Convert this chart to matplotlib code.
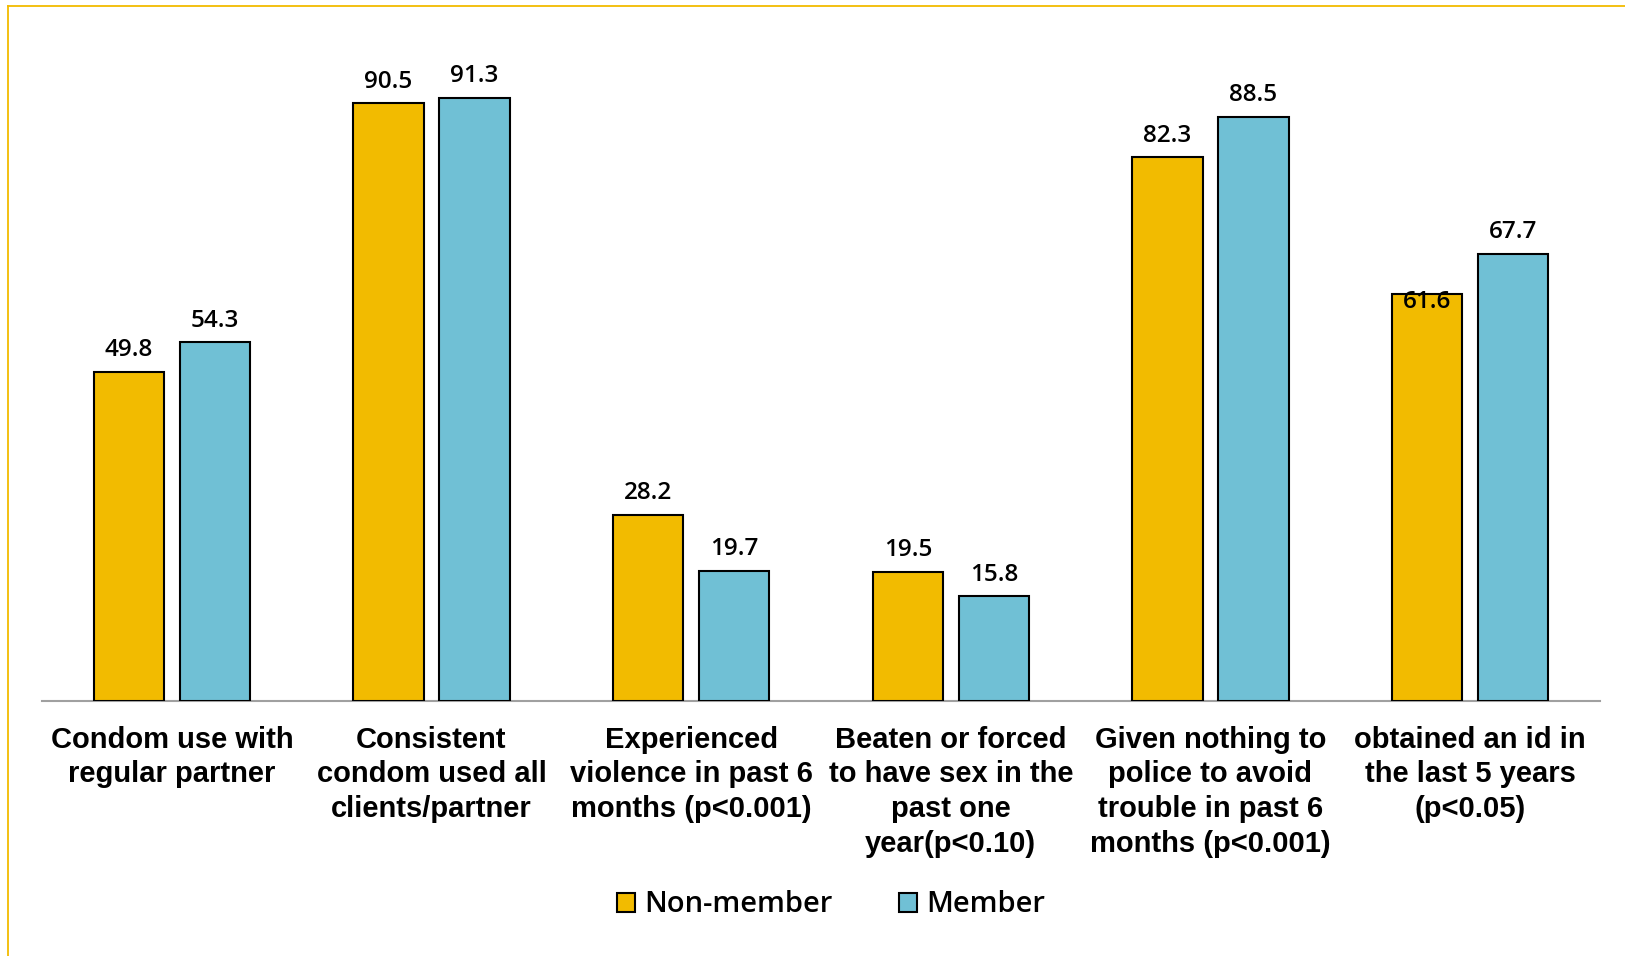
import matplotlib
matplotlib.use("Agg")
import matplotlib.pyplot as plt
import numpy as np
from matplotlib.lines import Line2D

categories = [
    "Condom use with\nregular partner",
    "Consistent\ncondom used all\nclients/partner",
    "Experienced\nviolence in past 6\nmonths (p<0.001)",
    "Beaten or forced\nto have sex in the\npast one\nyear(p<0.10)",
    "Given nothing to\npolice to avoid\ntrouble in past 6\nmonths (p<0.001)",
    "obtained an id in\nthe last 5 years\n(p<0.05)",
]
series_names = ["Non-member", "Member"]
non_member = [49.8, 90.5, 28.2, 19.5, 82.3, 61.6]
member = [54.3, 91.3, 19.7, 15.8, 88.5, 67.7]

YELLOW = "#F2BB00"
BLUE = "#70C0D5"

fig = plt.figure(figsize=(16.25, 9.56), dpi=100)
ax = fig.add_axes([42/1625, 1-700.7/956, (1600-42)/1625, (700.7-40.6)/956])

x = np.arange(len(categories))
w = 0.27
off = 0.1656
b1 = ax.bar(x - off, non_member, w, color=YELLOW, edgecolor="black", linewidth=1.5, label=series_names[0], zorder=3)
b2 = ax.bar(x + off, member, w, color=BLUE, edgecolor="black", linewidth=1.5, label=series_names[1], zorder=3)

lab_font = dict(family=["Open Sans", "DejaVu Sans"], fontsize=17.5, fontweight="semibold", color="black")
for bars, vals in ((b1, non_member), (b2, member)):
    for i, (r, v) in enumerate(zip(bars, vals)):
        dy = 7
        if bars is b1 and i == 5:
            dy = -14
        ax.annotate(f"{v:.1f}", (r.get_x() + r.get_width()/2, v), xytext=(0, dy),
                    textcoords="offset points", ha="center", va="bottom", zorder=5, **lab_font)

ax.set_xlim(-0.5, len(categories) - 0.5)
ax.set_ylim(0, 100)
ax.set_xticks(x)
ax.set_xticklabels(categories, fontsize=21, fontweight="bold", family=["Liberation Sans", "DejaVu Sans"],
                   linespacing=1.3, va="top")
ax.tick_params(axis="x", length=0, pad=18)
ax.set_yticks([])
for s in ("left", "right", "top"):
    ax.spines[s].set_visible(False)
ax.spines["bottom"].set_color("#A0A0A0")
ax.spines["bottom"].set_linewidth(1.5)

leg = fig.legend(handles=[b1, b2], labels=series_names, loc="center", bbox_to_anchor=(0.5115, 1-905/956),
                 ncol=2, frameon=False, prop=dict(family=["Open Sans", "DejaVu Sans"], size=21, weight="semibold"),
                 handlelength=0.62, handleheight=0.62, handletextpad=0.3, columnspacing=2.3)

# yellow frame (top and left edges)
fig.add_artist(Line2D([8/1625, 8/1625], [0, 1-6/956], transform=fig.transFigure, color=YELLOW, linewidth=1.3))
fig.add_artist(Line2D([8/1625, 1], [1-6/956, 1-6/956], transform=fig.transFigure, color=YELLOW, linewidth=1.3))

fig.savefig("out.png", dpi=100)
